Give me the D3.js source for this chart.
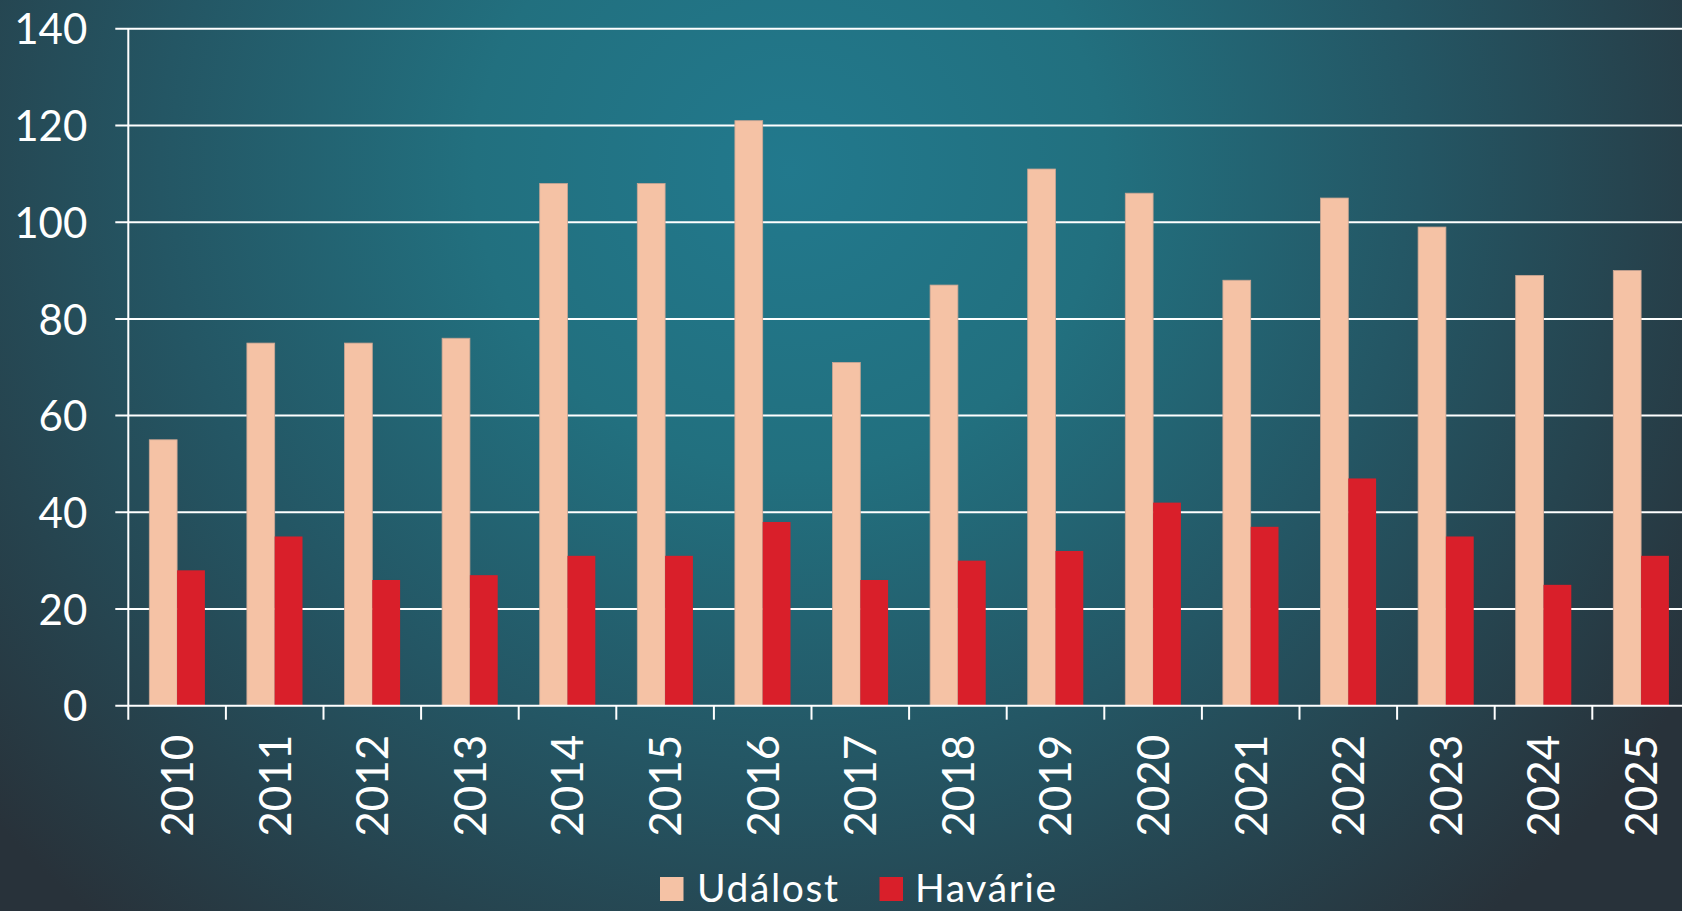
<!DOCTYPE html>
<html>
<head>
<meta charset="utf-8">
<script src="https://cdn.jsdelivr.net/npm/d3@7"></script>
<style>
  html, body { margin: 0; padding: 0; overflow: hidden; background: #263a41; }
  svg { display: block; }
  text { font-family: Lato, "Open Sans", sans-serif; fill: #ffffff; }
</style>
</head>
<body>
<svg id="chart" width="1682" height="911"></svg>
<script>
const years = ["2010","2011","2012","2013","2014","2015","2016","2017","2018","2019","2020","2021","2022","2023","2024","2025"];
const seriesNames = ["Událost", "Havárie"];
const udalost = [55, 75, 75, 76, 108, 108, 121, 71, 87, 111, 106, 88, 105, 99, 89, 90];
const havarie = [28, 35, 26, 27, 31, 31, 38, 26, 30, 32, 42, 37, 47, 35, 25, 31];
const yTicks = [0, 20, 40, 60, 80, 100, 120, 140];
const colors = ["#F5C2A5", "#D91F2A"];

const W = 1682, H = 911;
const svg = d3.select("#chart");

// background radial gradient
const defs = svg.append("defs");
const grad = defs.append("radialGradient")
  .attr("id", "bg").attr("gradientUnits", "userSpaceOnUse")
  .attr("cx", 790).attr("cy", 170).attr("r", 1050)
  .attr("gradientTransform", "translate(790,170) scale(1,0.95) translate(-790,-170)");
grad.append("stop").attr("offset", 0).attr("stop-color", "#22798d");
grad.append("stop").attr("offset", 0.3).attr("stop-color", "#22707f");
grad.append("stop").attr("offset", 0.6).attr("stop-color", "#245664");
grad.append("stop").attr("offset", 1).attr("stop-color", "#28323a");
svg.append("rect").attr("width", W).attr("height", H).attr("fill", "url(#bg)");

const left = 128.3, step = 97.6;
const x = d3.scaleBand().domain(years).range([left, left + step * years.length]).paddingInner(0).paddingOuter(0);
const xs = d3.scaleBand().domain(seriesNames).range([0, x.bandwidth()]).paddingInner(0).paddingOuter(0.755);
const y = d3.scaleLinear().domain([0, 140]).range([705.7, 28.8]);

// gridlines
svg.append("g").selectAll("line").data(yTicks.filter(d => d > 0)).join("line")
  .attr("x1", left - 13).attr("x2", W)
  .attr("y1", d => y(d)).attr("y2", d => y(d))
  .attr("stroke", "#ffffff").attr("stroke-width", 2);

// bars
const data = [udalost, havarie];
const g = svg.append("g");
seriesNames.forEach((s, si) => {
  g.append("g").selectAll("rect").data(years).join("rect")
    .attr("x", d => x(d) + xs(s))
    .attr("y", (d, i) => y(data[si][i]))
    .attr("width", xs.bandwidth())
    .attr("height", (d, i) => y(0) - y(data[si][i]))
    .attr("fill", colors[si])
    .attr("stroke", si === 0 ? "#c9a593" : "none")
    .attr("stroke-width", si === 0 ? 0.8 : 0);
});

// y axis
const yAxis = d3.axisLeft(y).tickValues(yTicks).tickSize(0).tickPadding(0);
const yg = svg.append("g").attr("transform", `translate(${left},0)`).call(yAxis);
yg.select(".domain").remove();
yg.selectAll("text").attr("x", -41).attr("dy", "0.36em")
  .style("font-size", "42px").style("font-family", "Lato, sans-serif").attr("fill", "#fff");
svg.append("line").attr("x1", left).attr("x2", left).attr("y1", y(140)).attr("y2", y(0) + 14)
  .attr("stroke", "#fff").attr("stroke-width", 2);

// x axis
svg.append("line").attr("x1", left - 13).attr("x2", W).attr("y1", y(0)).attr("y2", y(0))
  .attr("stroke", "#fff").attr("stroke-width", 2);
const tickPos = years.map(d => x(d)).concat([x(years[years.length - 1]) + x.bandwidth()]);
svg.append("g").selectAll("line").data(tickPos.slice(1)).join("line")
  .attr("x1", d => d).attr("x2", d => d).attr("y1", y(0)).attr("y2", y(0) + 14)
  .attr("stroke", "#fff").attr("stroke-width", 2);

const xAxis = d3.axisBottom(x).tickSize(0).tickPadding(0);
const xg = svg.append("g").attr("transform", `translate(0,${y(0)})`).call(xAxis);
xg.select(".domain").remove();
xg.selectAll("text")
  .attr("transform", "rotate(-90)")
  .attr("x", -29).attr("y", 0).attr("dy", "0.36em")
  .style("text-anchor", "end")
  .style("font-size", "44px").style("font-family", "Lato, sans-serif").attr("fill", "#fff");

// legend
const legend = svg.append("g");
const legendItems = [{name: seriesNames[0], c: colors[0], x: 660, tx: 697}, {name: seriesNames[1], c: colors[1], x: 879.5, tx: 915}];
legendItems.forEach(it => {
  legend.append("rect").attr("x", it.x).attr("y", 877).attr("width", 23.5).attr("height", 24).attr("fill", it.c);
  legend.append("text").attr("x", it.tx).attr("y", 902).text(it.name)
    .style("font-size", "39px").style("letter-spacing", "1.6px");
});
</script>
</body>
</html>
